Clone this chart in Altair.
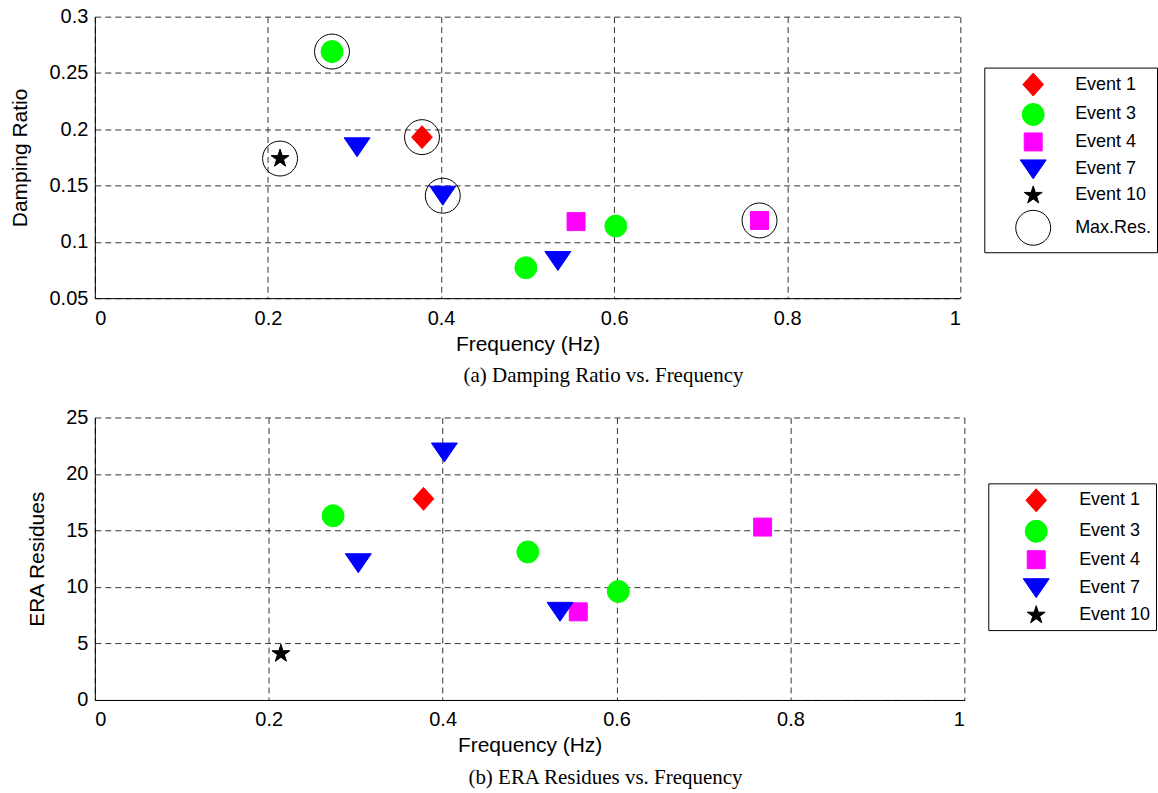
import altair as alt
import pandas as pd

# ---------------- data ----------------
EVENTS = ["Event 1", "Event 3", "Event 4", "Event 7", "Event 10"]
MAXRES = "Max.Res."
EVENT_COLORS = ["#ff0000", "#00ff00", "#ff00ff", "#0000ff", "#000000"]

mode_event = ["Event 1", "Event 3", "Event 3", "Event 3", "Event 4",
              "Event 4", "Event 7", "Event 7", "Event 7", "Event 10"]
freq = [0.378, 0.274, 0.498, 0.602, 0.556, 0.768, 0.303, 0.402, 0.535, 0.214]
damping = [0.193, 0.269, 0.077, 0.114, 0.118, 0.119, 0.184, 0.141, 0.083, 0.174]
residue = [17.8, 16.3, 13.1, 9.6, 7.8, 15.3, 12.1, 21.9, 7.8, 4.1]
is_max_res = [True, True, False, False, False, True, False, True, False, True]

x_ticks = [0, 0.2, 0.4, 0.6, 0.8, 1]
damp_ticks = [0.05, 0.1, 0.15, 0.2, 0.25, 0.3]
res_ticks = [0, 5, 10, 15, 20, 25]

# ---------------- marker styling ----------------
DIAMOND = "M0,-1L0.9,0L0,1L-0.9,0Z"
TRI_DOWN = "M-1,-0.73L1,-0.73L0,0.73Z"
STAR = ("M0,-1L0.2245,-0.309L0.9511,-0.309L0.3633,0.118L0.5878,0.809L0,0.382"
        "L-0.5878,0.809L-0.3633,0.118L-0.9511,-0.309L-0.2245,-0.309Z")
EVENT_SHAPES = [DIAMOND, "circle", "square", TRI_DOWN, STAR]
EVENT_SIZES = [529, 484, 324, 676, 358]
MAXRES_SIZE = 1225

SANS = "Liberation Sans"
SERIF = "Liberation Serif"

# ---------------- tables ----------------
top_rows = [dict(freq=f, val=d, label=e) for f, d, e in zip(freq, damping, mode_event)]
top_rows += [dict(freq=f, val=d, label=MAXRES)
             for f, d, m in zip(freq, damping, is_max_res) if m]
top_df = pd.DataFrame(top_rows)

bot_df = pd.DataFrame([dict(freq=f, val=r, label=e)
                       for f, r, e in zip(freq, residue, mode_event)])


def panel(df, y_domain, y_ticks, y_title, y_title_x, domain, shapes, fills,
          strokes, sizes, w, h, leg_x, leg_y, sym_off, lab_off, row_pad, caption):
    leg = alt.Legend(orient="none", legendX=leg_x, legendY=leg_y, title=None,
                     strokeColor="black", fillColor="white", padding=5,
                     labelFont=SANS, labelFontSize=18, labelColor="black",
                     symbolOffset=sym_off, labelOffset=lab_off,
                     rowPadding=row_pad, symbolStrokeWidth=1)
    x_axis = alt.Axis(values=x_ticks, format="~g", title="Frequency (Hz)",
                      titleY=35, titleBaseline="top", labelPadding=10)
    y_axis = alt.Axis(values=y_ticks, format="~g", title=y_title,
                      titleX=y_title_x, labelPadding=7)
    return alt.Chart(df).mark_point(opacity=1, strokeWidth=1).encode(
        x=alt.X("freq:Q", scale=alt.Scale(domain=[0, 1], nice=False, zero=False),
                axis=x_axis),
        y=alt.Y("val:Q", scale=alt.Scale(domain=y_domain, nice=False, zero=False),
                axis=y_axis),
        shape=alt.Shape("label:N", scale=alt.Scale(domain=domain, range=shapes),
                        legend=leg),
        fill=alt.Fill("label:N", scale=alt.Scale(domain=domain, range=fills),
                      legend=leg),
        stroke=alt.Stroke("label:N", scale=alt.Scale(domain=domain, range=strokes),
                          legend=leg),
        size=alt.Size("label:N", scale=alt.Scale(type="ordinal", domain=domain,
                                                 range=sizes), legend=leg),
    ).properties(
        width=w, height=h,
        title=alt.TitleParams(caption, orient="bottom", anchor="middle",
                              frame="group", dx=76, offset=11, font=SERIF,
                              fontSize=21, fontWeight="normal", color="black"),
    )


top = panel(top_df, [0.05, 0.3], damp_ticks, "Damping Ratio", -64,
            EVENTS + [MAXRES], EVENT_SHAPES + ["circle"],
            EVENT_COLORS + ["transparent"], EVENT_COLORS + ["#000000"],
            EVENT_SIZES + [MAXRES_SIZE], 867, 282, 891, 51, 26, 24, 2.5,
            "(a) Damping Ratio vs. Frequency")

bottom = panel(bot_df, [0, 25], res_ticks, "ERA Residues", -47,
               EVENTS, EVENT_SHAPES, EVENT_COLORS, EVENT_COLORS,
               EVENT_SIZES, 871, 283, 895, 66, 29.5, 29.5, 3.5,
               "(b) ERA Residues vs. Frequency")

chart = alt.vconcat(top, bottom, spacing=21.5).resolve_scale(
    shape="independent", fill="independent", stroke="independent",
    size="independent"
).resolve_legend(
    shape="independent", fill="independent", stroke="independent",
    size="independent"
).properties(
    padding={"left": 9, "top": 6, "right": 0, "bottom": 0},
    background="white",
).configure_view(stroke=None).configure_axis(
    labelFont=SANS, labelFontSize=20, labelColor="black",
    titleFont=SANS, titleFontSize=21, titleColor="black", titleFontWeight="normal",
    domainColor="black", domainWidth=1, ticks=False,
    grid=True, gridColor="#333333", gridDash=[6, 4], gridWidth=1, gridOpacity=1,
)

chart.save("out.html", embed_options={"renderer": "svg", "actions": False})
